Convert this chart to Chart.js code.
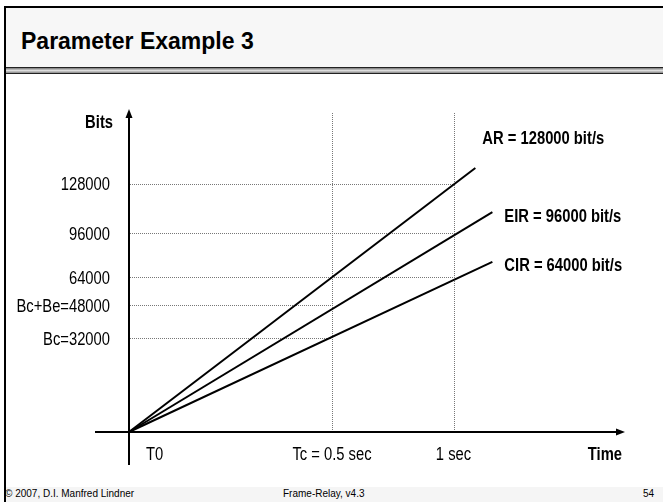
<!DOCTYPE html>
<html>
<head>
<meta charset="utf-8">
<script src="https://cdn.jsdelivr.net/npm/chart.js@4.4.1/dist/chart.umd.min.js"></script>
<style>
body { margin: 0; width: 663px; height: 502px; position: relative; overflow: hidden; background: #fff; font-family: 'Liberation Sans', Arial, sans-serif; }
#frame { position: absolute; left: 4px; top: 6px; width: 659px; height: 496px; box-sizing: border-box; border-left: 2px solid #000; border-top: 2px solid #000; }
#titlebar { position: absolute; left: 6px; top: 8px; width: 657px; height: 59px; background: #f7f7f7; }
#title { position: absolute; left: 15px; top: 21.5px; font-weight: bold; font-size: 23px; line-height: 23px; color: #000; white-space: nowrap; }
#rule { position: absolute; left: 6px; top: 67px; width: 657px; height: 7px; box-sizing: border-box; border-top: 1px solid #222; border-bottom: 1px solid #222; background: linear-gradient(#777, #ddd 50%, #888); }
#footer { position: absolute; left: 6px; top: 487px; width: 657px; height: 15px; background: #f5f5f5; font-size: 10px; line-height: 10px; color: #000; }
#footer span { position: absolute; top: 2px; white-space: nowrap; }
#chart { position: absolute; left: 0; top: 0; }
</style>
</head>
<body>
<div id="frame"></div>
<div id="titlebar"><div id="title">Parameter Example 3</div></div>
<div id="rule"></div>
<div id="footer">
  <span style="left:-1px">© 2007, D.I. Manfred Lindner</span>
  <span style="left:277px">Frame-Relay, v4.3</span>
  <span style="left:637px">54</span>
</div>
<canvas id="chart" width="663" height="502"></canvas>
<script>
// axis ticks
const timeTicks = [0, 0.5, 1];
const timeLabels = ['T0', 'Tc = 0.5 sec', '1 sec'];
const bitsTicks = [128000, 96000, 64000, 48000, 32000];
const bitsLabels = ['128000', '96000', '64000', 'Bc+Be=48000', 'Bc=32000'];
// time at which each bits gridline stops (1 sec or Tc)
const bitsGridEnd = [1, 1, 1, 0.5, 0.5];

// the three rate lines, from T0 to where they stop in the drawing
const rateNames = ['AR = 128000 bit/s', 'EIR = 96000 bit/s', 'CIR = 64000 bit/s'];
const rateEndTime = [1.09, 1.16, 1.16];
const rateEndBits = [138000, 109500, 75000];

// the slide axes are not to scale: [value, px from origin] knots
const warps = {
  x: [[0, 0], [0.5, 203], [1, 324.5], [1.706, 496]],
  y: [[0, 0], [32000, 94], [48000, 127], [64000, 155], [96000, 199], [128000, 248.5], [176000, 323]]
};

function warpDecimal(knots, v) {
  const span = knots[knots.length - 1][1];
  for (let i = 1; i < knots.length; i++) {
    const [v0, p0] = knots[i - 1];
    const [v1, p1] = knots[i];
    if (v <= v1 || i === knots.length - 1) {
      return (p0 + (v - v0) * (p1 - p0) / (v1 - v0)) / span;
    }
  }
}

function unwarp(knots, d) {
  const span = knots[knots.length - 1][1];
  const p = d * span;
  for (let i = 1; i < knots.length; i++) {
    const [v0, p0] = knots[i - 1];
    const [v1, p1] = knots[i];
    if (p <= p1 || i === knots.length - 1) {
      return v0 + (p - p0) * (v1 - v0) / (p1 - p0);
    }
  }
}

class WarpScale extends Chart.LinearScale {
  static id = 'warp';
  static defaults = {};
  getPixelForValue(value) {
    if (value === null || value === undefined) return NaN;
    return this.getPixelForDecimal(warpDecimal(warps[this.axis], value));
  }
  getValueForPixel(pixel) {
    return unwarp(warps[this.axis], this.getDecimalForPixel(pixel));
  }
}
Chart.register(WarpScale);

// no Arial Narrow here, so squeeze Liberation Sans
function narrowText(ctx, text, x, y, align, bold) {
  ctx.save();
  ctx.font = (bold ? 'bold ' : '') + '18px "Liberation Sans", Arial, sans-serif';
  ctx.textAlign = align;
  ctx.textBaseline = 'alphabetic';
  ctx.translate(x, y);
  ctx.scale(0.82, 1);
  ctx.fillText(text, 0, 0);
  ctx.restore();
}

const labelShift = [[7, -24], [12, 10], [12, 9]];

const slidePlugin = {
  id: 'slide',
  beforeDatasetsDraw(chart) {
    const ctx = chart.ctx;
    const xs = chart.scales.x;
    const ys = chart.scales.y;
    const ox = xs.getPixelForValue(0);
    const oy = ys.getPixelForValue(0);
    const top = chart.chartArea.top;
    ctx.save();
    // dotted guide lines
    ctx.strokeStyle = '#777';
    ctx.lineWidth = 1;
    ctx.setLineDash([1, 1]);
    bitsTicks.forEach(function (v, i) {
      const y = Math.round(ys.getPixelForValue(v)) + 0.5;
      ctx.beginPath();
      ctx.moveTo(ox + 1, y);
      ctx.lineTo(xs.getPixelForValue(bitsGridEnd[i]), y);
      ctx.stroke();
    });
    timeTicks.slice(1).forEach(function (t) {
      const x = Math.round(xs.getPixelForValue(t)) + 0.5;
      ctx.beginPath();
      ctx.moveTo(x, top + 4);
      ctx.lineTo(x, oy);
      ctx.stroke();
    });
    // axes with arrows
    ctx.setLineDash([]);
    ctx.strokeStyle = '#000';
    ctx.fillStyle = '#000';
    ctx.lineWidth = 2;
    ctx.beginPath();
    ctx.moveTo(ox, top + 7);
    ctx.lineTo(ox, oy + 33);
    ctx.moveTo(ox - 34, oy);
    ctx.lineTo(chart.chartArea.right - 7, oy);
    ctx.stroke();
    ctx.beginPath();
    ctx.moveTo(ox, top);
    ctx.lineTo(ox - 3.5, top + 9);
    ctx.lineTo(ox + 3.5, top + 9);
    ctx.closePath();
    ctx.fill();
    const r = chart.chartArea.right;
    ctx.beginPath();
    ctx.moveTo(r, oy);
    ctx.lineTo(r - 9, oy - 3.5);
    ctx.lineTo(r - 9, oy + 3.5);
    ctx.closePath();
    ctx.fill();
    ctx.restore();
  },
  afterDraw(chart) {
    const ctx = chart.ctx;
    const xs = chart.scales.x;
    const ys = chart.scales.y;
    const ox = xs.getPixelForValue(0);
    const oy = ys.getPixelForValue(0);
    ctx.save();
    ctx.fillStyle = '#000';
    bitsTicks.forEach(function (v, i) {
      narrowText(ctx, bitsLabels[i], ox - 19, ys.getPixelForValue(v) + 6.5, 'right', false);
    });
    timeTicks.forEach(function (t, i) {
      if (t === 0) {
        narrowText(ctx, timeLabels[i], ox + 17, oy + 28, 'left', false);
      } else {
        narrowText(ctx, timeLabels[i], xs.getPixelForValue(t), oy + 28, 'center', false);
      }
    });
    narrowText(ctx, 'Bits', ox - 16, chart.chartArea.top + 19, 'right', true);
    narrowText(ctx, 'Time', chart.chartArea.right - 3, oy + 28, 'right', true);
    chart.data.datasets.forEach(function (ds, i) {
      const pt = chart.getDatasetMeta(i).data[1];
      narrowText(ctx, rateNames[i], pt.x + labelShift[i][0], pt.y + labelShift[i][1], 'left', true);
    });
    ctx.restore();
  }
};

const datasets = rateNames.map(function (name, i) {
  return {
    label: name,
    data: [{ x: 0, y: 0 }, { x: rateEndTime[i], y: rateEndBits[i] }],
    borderColor: '#000',
    borderWidth: 2,
    pointRadius: 0,
    tension: 0,
    clip: false
  };
});

new Chart(document.getElementById('chart'), {
  type: 'line',
  data: { datasets: datasets },
  options: {
    responsive: false,
    devicePixelRatio: 1,
    animation: false,
    events: [],
    layout: { padding: { top: 109, right: 38, bottom: 0, left: 0 } },
    plugins: { legend: { display: false }, tooltip: { enabled: false }, title: { display: false } },
    scales: {
      x: {
        type: 'warp',
        min: 0,
        max: warps.x[warps.x.length - 1][0],
        grid: { display: false },
        border: { display: false },
        ticks: { display: false },
        afterFit: function (s) { s.height = 70; }
      },
      y: {
        type: 'warp',
        min: 0,
        max: warps.y[warps.y.length - 1][0],
        grid: { display: false, drawTicks: false },
        border: { display: false },
        afterBuildTicks: function (s) { s.ticks = bitsTicks.map(function (v) { return { value: v }; }); },
        afterFit: function (s) { s.width = 129; },
        ticks: { display: false }
      }
    }
  },
  plugins: [slidePlugin]
});
</script>
</body>
</html>
